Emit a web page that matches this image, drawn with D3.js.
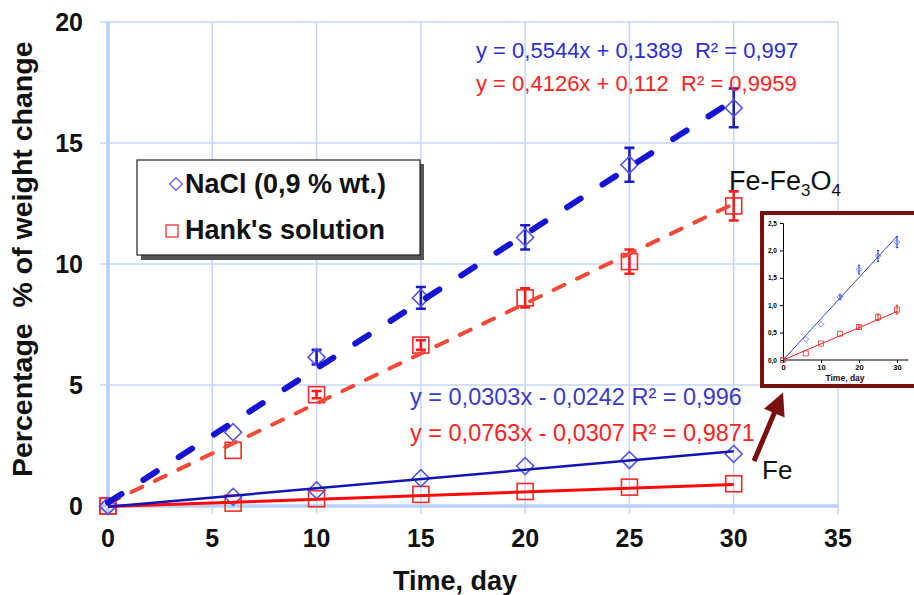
<!DOCTYPE html>
<html><head><meta charset="utf-8">
<script src="https://cdn.jsdelivr.net/npm/d3@7"></script>
<style>body{margin:0;background:#fff}svg{display:block;font-family:Arial,"Liberation Sans",sans-serif}</style>
</head><body><svg id="c" width="914" height="595"></svg>
<script>
const days = [0, 6, 10, 15, 20, 25, 30];
const naclOxide = [0, 3.05, 6.15, 8.6, 11.1, 14.1, 16.45];
const naclOxideErr = [0, 0, 0.3, 0.45, 0.5, 0.7, 0.8];
const hankOxide = [0, 2.3, 4.6, 6.65, 8.6, 10.1, 12.4];
const hankOxideErr = [0, 0, 0.15, 0.2, 0.4, 0.5, 0.6];
const naclFe = [0, 0.38, 0.65, 1.15, 1.65, 1.9, 2.15];
const naclFeErr = [0, 0, 0, 0.05, 0.08, 0.1, 0.1];
const hankFe = [0, 0.12, 0.3, 0.48, 0.6, 0.78, 0.92];
const hankFeErr = [0, 0, 0, 0, 0.04, 0.06, 0.08];
const xTicks = [0, 5, 10, 15, 20, 25, 30, 35];
const yTicks = [0, 5, 10, 15, 20];
const insetXTicks = [0, 10, 20, 30];
const insetYTicks = [0, 0.5, 1.0, 1.5, 2.0, 2.5];
// trendline coefficients [slope, intercept]
const trendNaclOxide = [0.5544, 0.1389];
const trendHankOxide = [0.4126, 0.112];
const trendNaclFe = [0.0763, -0.0307];
const trendHankFe = [0.0303, -0.0242];
const eqTexts = ["y = 0,5544x + 0,1389  R² = 0,997", "y = 0,4126x + 0,112  R² = 0,9959",
                 "y = 0,0303x - 0,0242 R² = 0,996", "y = 0,0763x - 0,0307 R² = 0,9871"];
const legendLabels = ["NaCl (0,9 % wt.)", "Hank's solution"];

const svg = d3.select("#c");
const x = d3.scaleLinear().domain([0, 35]).range([108, 838]);
const y = d3.scaleLinear().domain([0, 20]).range([506, 22]);
const grid = "#c4d6fa";

// grid
svg.append("g").selectAll("line").data(xTicks.slice(1)).join("line")
  .attr("x1", d => x(d)).attr("x2", d => x(d)).attr("y1", y(20)).attr("y2", y(0) + 8)
  .attr("stroke", grid).attr("stroke-width", 1.5);
svg.append("g").selectAll("line").data(yTicks.slice(1)).join("line")
  .attr("x1", x(0) - 8).attr("x2", x(35)).attr("y1", d => y(d)).attr("y2", d => y(d))
  .attr("stroke", grid).attr("stroke-width", 1.5);
// axes lines
svg.append("line").attr("x1", x(0)).attr("x2", x(0)).attr("y1", y(20)).attr("y2", y(0) + 8)
  .attr("stroke", "#b8cff6").attr("stroke-width", 3.5);
svg.append("line").attr("x1", x(0) - 8).attr("x2", x(35)).attr("y1", y(0)).attr("y2", y(0))
  .attr("stroke", "#b8cff6").attr("stroke-width", 3.5);

// tick labels
svg.append("g").selectAll("text").data(xTicks).join("text")
  .attr("x", d => x(d)).attr("y", 547).attr("text-anchor", "middle")
  .attr("font-size", 25).attr("font-weight", "bold").attr("fill", "#111").text(d => d);
svg.append("g").selectAll("text").data(yTicks).join("text")
  .attr("x", 83).attr("y", d => y(d) + 9).attr("text-anchor", "end")
  .attr("font-size", 25).attr("font-weight", "bold").attr("fill", "#111").text(d => d);

// axis titles
svg.append("text").attr("x", 393).attr("y", 590).attr("text-anchor", "start")
  .attr("font-size", 27).attr("font-weight", "bold").attr("fill", "#111").text("Time, day");
svg.append("text").attr("transform", "translate(32,477) rotate(-90)").attr("text-anchor", "start")
  .attr("font-size", 28.5).attr("font-weight", "bold").attr("fill", "#111")
  .attr("xml:space", "preserve").style("white-space", "pre").text("Percentage  % of weight change");

// trendlines
function trend(c, color, w, dash) {
  const pts = [0, 30].map(d => [x(d), y(c[0] * d + c[1])]);
  svg.append("path").attr("d", d3.line()(pts)).attr("fill", "none")
    .attr("stroke", color).attr("stroke-width", w).attr("stroke-linecap", dash ? "round" : "butt")
    .attr("stroke-dasharray", dash || null);
}

function diamonds(vals, color, g) {
  g.selectAll(null).data(days).join("rect")
    .attr("x", -6).attr("y", -6).attr("width", 12).attr("height", 12)
    .attr("transform", (d, i) => `translate(${x(d)},${y(vals[i])}) rotate(45)`)
    .attr("fill", "none").attr("stroke", color).attr("stroke-width", 1.6);
}
function squares(vals, color, g) {
  g.selectAll(null).data(days).join("rect")
    .attr("x", d => x(d) - 8).attr("y", (d, i) => y(vals[i]) - 8).attr("width", 16).attr("height", 16)
    .attr("fill", "none").attr("stroke", color).attr("stroke-width", 1.6);
}
function errbars(vals, errs, color, g, xs, ys, w, cap) {
  days.forEach((d, i) => {
    if (!errs[i]) return;
    const cx = xs(d), y1 = ys(vals[i] + errs[i]), y2 = ys(vals[i] - errs[i]);
    g.append("path").attr("d", `M${cx},${y1}V${y2}M${cx-cap},${y1}H${cx+cap}M${cx-cap},${y2}H${cx+cap}`)
      .attr("stroke", color).attr("stroke-width", w).attr("fill", "none");
  });
}

const mg = svg.append("g");
errbars(naclOxide, naclOxideErr, "#1c1cc8", mg, x, y, 2.6, 5);
errbars(hankOxide, hankOxideErr, "#ff1a1a", mg, x, y, 2.6, 5);
squares(hankFe, "#f52a2a", mg);
diamonds(naclFe, "#5757e0", mg);
squares(hankOxide, "#f52a2a", mg);
diamonds(naclOxide, "#5757e0", mg);

trend(trendHankFe, "#ff0a0a", 3, null);
trend(trendNaclFe, "#1414b4", 2.5, null);
trend(trendHankOxide, "#f24a38", 4, "12,14");
trend(trendNaclOxide, "#1414d2", 6, "16,26");

// equations
const eqs = [[476, 58, "#2e2ecc", 22], [476, 91, "#ff2222", 22], [410, 405, "#3a3ac8", 23.5], [410, 441, "#ff2222", 23.5]];
svg.append("g").selectAll("text").data(eqTexts).join("text")
  .attr("x", (d, i) => eqs[i][0]).attr("y", (d, i) => eqs[i][1])
  .attr("fill", (d, i) => eqs[i][2]).attr("font-size", (d, i) => eqs[i][3])
  .attr("xml:space", "preserve").style("white-space", "pre").text(d => d);

// labels
const lab = svg.append("text").attr("x", 729).attr("y", 190).attr("font-size", 27).attr("fill", "#111");
lab.append("tspan").text("Fe-Fe");
lab.append("tspan").attr("font-size", 17).attr("dy", 6).text("3");
lab.append("tspan").attr("dy", -6).text("O");
lab.append("tspan").attr("font-size", 17).attr("dy", 6).text("4");
svg.append("text").attr("x", 762).attr("y", 479).attr("font-size", 26).attr("fill", "#111").text("Fe");

// legend
svg.append("rect").attr("x", 141).attr("y", 164).attr("width", 283).attr("height", 96).attr("fill", "#555");
svg.append("rect").attr("x", 137).attr("y", 160).attr("width", 283).attr("height", 95)
  .attr("fill", "#fff").attr("stroke", "#222").attr("stroke-width", 1.2);
svg.append("rect").attr("x", -4.5).attr("y", -4.5).attr("width", 9).attr("height", 9)
  .attr("transform", "translate(176,184) rotate(45)").attr("fill", "none").attr("stroke", "#6666e8").attr("stroke-width", 1.4);
svg.append("rect").attr("x", 166).attr("y", 225).attr("width", 12).attr("height", 12)
  .attr("fill", "none").attr("stroke", "#f04040").attr("stroke-width", 1.4);
svg.append("g").selectAll("text").data(legendLabels).join("text")
  .attr("x", 185).attr("y", (d, i) => 193 + i * 46).attr("font-size", 27).attr("font-weight", "bold")
  .attr("fill", "#111").text(d => d);

// inset
const ins = svg.append("g");
ins.append("rect").attr("x", 762).attr("y", 213).attr("width", 160).attr("height", 173)
  .attr("fill", "#fff").attr("stroke", "#7a0f10").attr("stroke-width", 4);
const ix = d3.scaleLinear().domain([0, 30]).range([783, 897]);
const iy = d3.scaleLinear().domain([0, 2.5]).range([360, 223]);
ins.append("g").attr("transform", "translate(0,360)")
  .call(d3.axisBottom(ix).tickValues(insetXTicks).tickSize(3).tickFormat(d3.format("d")))
  .call(g => g.select(".domain").attr("d", `M${ix(0)},0H${ix(33)}`))
  .call(g => g.selectAll("text").attr("font-size", 7.5).attr("font-weight", "bold").attr("dy", "0.5em"));
ins.append("g").attr("transform", "translate(783,0)")
  .call(d3.axisLeft(iy).tickValues(insetYTicks).tickSize(3).tickFormat(d => d.toFixed(1).replace(".", ",")))
  .call(g => g.selectAll("text").attr("font-size", 6.5).attr("font-weight", "bold"));
ins.append("text").attr("x", 845).attr("y", 381).attr("text-anchor", "middle")
  .attr("font-size", 8.5).attr("font-weight", "bold").attr("fill", "#111").text("Time, day");
[[trendNaclFe, "#3344dd"], [trendHankFe, "#ee2222"]].forEach(([c, col]) => {
  ins.append("path").attr("d", d3.line()([0, 30].map(d => [ix(d), iy(Math.max(0, c[0] * d + c[1]))])))
    .attr("stroke", col).attr("stroke-width", 1).attr("fill", "none");
});
errbars(naclFe, naclFeErr, "#2233cc", ins, ix, iy, 1, 1.2);
errbars(hankFe, hankFeErr, "#ee2222", ins, ix, iy, 1, 1.2);
ins.selectAll(null).data(days).join("rect").attr("x", -2).attr("y", -2).attr("width", 4).attr("height", 4)
  .attr("transform", (d, i) => `translate(${ix(d)},${iy(naclFe[i])}) rotate(45)`)
  .attr("fill", "none").attr("stroke", "#5566ee").attr("stroke-width", 0.8);
ins.selectAll(null).data(days).join("rect").attr("x", d => ix(d) - 2.5).attr("y", (d, i) => iy(hankFe[i]) - 2.5)
  .attr("width", 5).attr("height", 5).attr("fill", "none").attr("stroke", "#ee3333").attr("stroke-width", 0.8);

// arrow
svg.append("defs").append("marker").attr("id", "ah").attr("viewBox", "0 0 10 10").attr("refX", 2).attr("refY", 5)
  .attr("markerWidth", 5).attr("markerHeight", 4.5).attr("orient", "auto")
  .append("path").attr("d", "M0,0L10,5L0,10Z").attr("fill", "#7a0f10");
svg.append("line").attr("x1", 754).attr("y1", 461).attr("x2", 776).attr("y2", 409)
  .attr("stroke", "#7a0f10").attr("stroke-width", 5).attr("marker-end", "url(#ah)");
</script></body></html>
